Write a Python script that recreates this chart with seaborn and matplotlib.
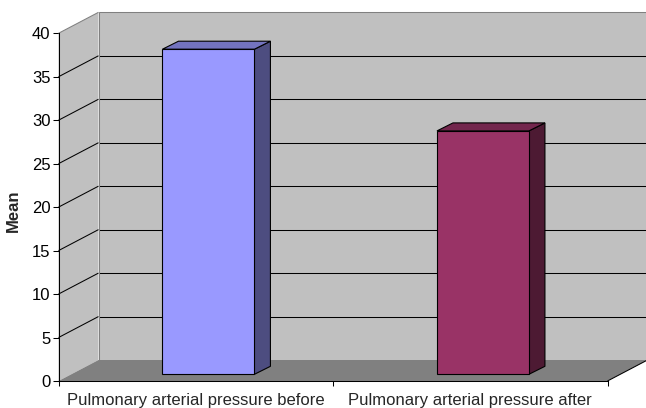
import numpy as np
import pandas as pd
import matplotlib
matplotlib.use("Agg")
import matplotlib.pyplot as plt
import seaborn as sns
from matplotlib.patches import Polygon

groups = ["Pulmonary arterial pressure before", "Pulmonary arterial pressure after"]
means = [37.4, 28.0]
front_colors = ["#9999FF", "#993366"]
side_colors = ["#4D4D80", "#4D1A33"]
top_colors = ["#7373BF", "#73264D"]
y_ticks = [0, 5, 10, 15, 20, 25, 30, 35, 40]

sns.set_style("white")
plt.rcParams['font.family'] = ['Liberation Sans', 'DejaVu Sans']

W, H = 646, 408
fig = plt.figure(figsize=(W / 100, H / 100), dpi=100)
ax_box = [58.5 / W, (H - 381) / H, 549 / W, 347.7 / H]
ax = fig.add_axes(ax_box)

df = pd.DataFrame({"group": groups, "mean": means})
sns.barplot(data=df, x="group", y="mean", hue="group", palette=front_colors,
            width=0.335, saturation=1, legend=False, ax=ax,
            edgecolor="black", linewidth=0.8, zorder=3)

ax.set_xlim(-0.5, 1.5)
ax.set_ylim(0, 40)

# pixel -> data conversion for the fake depth
xpp = 2 / 549
ypp = 40 / 347.7
wall = (40 * xpp, 21 * ypp)        # full depth of the box
bfront = (12.7 * xpp, 6.7 * ypp)   # bar front face depth
bback = (28.7 * xpp, 14.7 * ypp)   # bar back face depth

def poly(pts, fc, ec="none", lw=0, z=0.5):
    p = Polygon(pts, closed=True, facecolor=fc, edgecolor=ec, linewidth=lw,
                clip_on=False, zorder=z, transform=ax.transData)
    ax.add_patch(p)

def line(x, y, c, z=0.8):
    ax.plot(x, y, color=c, lw=0.75, clip_on=False, zorder=z, solid_capstyle="butt")

wx, wy = wall
# back wall, side wall, floor
poly([(-0.5 + wx, wy), (1.5 + wx, wy), (1.5 + wx, 40 + wy), (-0.5 + wx, 40 + wy)], "#C0C0C0", z=0.2)
poly([(-0.5, 0), (-0.5 + wx, wy), (-0.5 + wx, 40 + wy), (-0.5, 40)], "#C0C0C0", z=0.3)
poly([(-0.5, 0), (1.5, 0), (1.5 + wx, wy), (-0.5 + wx, wy)], "#808080", z=0.4)

# gridlines on the walls
for v in y_ticks[1:-1]:
    line([-0.5 + wx, 1.5 + wx], [v + wy, v + wy], "black")
    line([-0.5, -0.5 + wx], [v, v + wy], "black")
line([-0.5 + wx, 1.5 + wx], [40 + wy, 40 + wy], "#808080")
line([-0.5, -0.5 + wx], [40, 40 + wy], "#808080")
line([-0.5 + wx, -0.5 + wx], [wy, 40 + wy], "#808080")
line([1.5, 1.5 + wx], [0, wy], "black")

# turn the flat bars into boxes
fx, fy = bfront
sx, sy = bback[0] - bfront[0], bback[1] - bfront[1]
for i, bar in enumerate(ax.patches[:len(means)]):
    x0 = bar.get_x() + fx
    w = bar.get_width()
    h = bar.get_height()
    bar.set_x(x0)
    bar.set_y(fy)
    x1 = x0 + w
    top = h + fy
    poly([(x1, fy), (x1 + sx, fy + sy), (x1 + sx, top + sy), (x1, top)],
         side_colors[i], ec="black", lw=0.8, z=2.5)
    poly([(x0, top), (x1, top), (x1 + sx, top + sy), (x0 + sx, top + sy)],
         top_colors[i], ec="black", lw=0.8, z=2.5)

# axes styling
sns.despine(ax=ax, top=True, right=True)
for s in ["left", "bottom"]:
    ax.spines[s].set_color("black")
    ax.spines[s].set_linewidth(0.75)
    ax.spines[s].set_zorder(4)

ax.set_yticks(y_ticks)
ax.tick_params(axis="y", direction="out", length=4.3, width=0.75, pad=1.5,
               labelsize=12, colors="black", left=True)
ax.set_xticks([0, 1])
ax.set_xticklabels(groups)
ax.set_xticks([-0.5, 0.5, 1.5], minor=True)
ax.tick_params(axis="x", which="major", length=0, pad=9, labelsize=12)
ax.tick_params(axis="x", which="minor", direction="out", length=3.6, width=0.75,
               bottom=True, colors="black")
ax.set_xlabel("")
ax.set_ylabel("Mean", fontsize=12, fontweight="bold")
ax.yaxis.set_label_coords(-0.068, 0.49)

fig.savefig("out.png", dpi=100, facecolor="white")
